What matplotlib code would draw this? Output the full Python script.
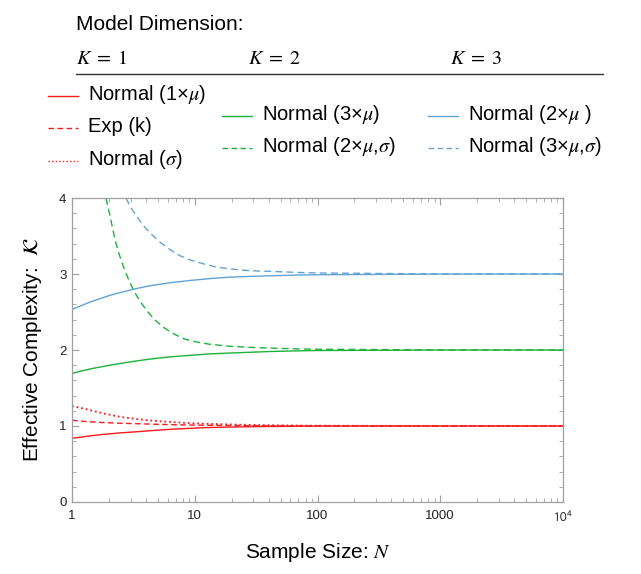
import matplotlib
matplotlib.use("Agg")
import matplotlib.pyplot as plt
from matplotlib.lines import Line2D
from matplotlib.ticker import FixedLocator, LogLocator, NullFormatter

plt.rcParams['font.family'] = ['Liberation Sans', 'DejaVu Sans']
plt.rcParams['mathtext.fontset'] = 'stix'

# values (N, effective complexity)
n_red_solid = [1, 1.4, 1.8, 2.5, 3.4, 4.5, 6.3, 9, 12, 16, 22, 30, 41, 70, 100, 1000, 10000]
k_red_solid = [0.838, 0.87, 0.89, 0.91, 0.925, 0.94, 0.956, 0.969, 0.978, 0.983, 0.988, 0.991, 0.994, 0.997, 0.998, 1.0, 1.0]

n_red_dash = [1, 1.4, 1.8, 2.5, 3.4, 4.5, 6.3, 9, 12, 20, 40, 100, 1000, 10000]
k_red_dash = [1.075, 1.055, 1.045, 1.036, 1.03, 1.024, 1.018, 1.013, 1.01, 1.006, 1.003, 1.001, 1.0, 1.0]

n_red_dot = [1, 1.32, 1.8, 2.46, 3.4, 4.5, 6.3, 9, 12, 22, 41, 70, 100, 1000, 10000]
k_red_dot = [1.263, 1.22, 1.165, 1.12, 1.09, 1.07, 1.053, 1.038, 1.03, 1.018, 1.01, 1.006, 1.004, 1.0, 1.0]

n_green_solid = [1, 1.16, 1.5, 2.04, 3, 4.3, 6.3, 9.2, 13, 19.4, 28, 41, 70, 100, 1000, 10000]
k_green_solid = [1.69, 1.72, 1.76, 1.80, 1.845, 1.88, 1.91, 1.93, 1.948, 1.96, 1.97, 1.98, 1.989, 1.993, 2.0, 2.0]

n_green_dash = [1.89, 2.05, 2.24, 2.42, 2.62, 2.85, 3.16, 3.55, 4.06, 4.7, 5.55, 6.6, 8.07, 10, 13.3, 19, 28, 41, 70, 100, 1000, 10000]
k_green_dash = [4.0, 3.75, 3.45, 3.26, 3.10, 2.95, 2.79, 2.65, 2.52, 2.40, 2.30, 2.22, 2.15, 2.11, 2.075, 2.05, 2.035, 2.025, 2.014, 2.01, 2.001, 2.0]

n_blue_solid = [1, 1.4, 2.04, 3.16, 4.3, 6.3, 9.2, 13.3, 19, 28, 41, 70, 100, 1000, 10000]
k_blue_solid = [2.535, 2.63, 2.72, 2.80, 2.845, 2.885, 2.915, 2.94, 2.958, 2.968, 2.976, 2.986, 2.99, 2.999, 3.0]

n_blue_dash = [2.75, 3.0, 3.36, 3.8, 4.32, 5.2, 6.29, 7.6, 9.15, 12, 15.1, 20, 24.9, 32, 41, 70, 100, 1000, 10000]
k_blue_dash = [4.0, 3.88, 3.76, 3.64, 3.54, 3.42, 3.32, 3.24, 3.185, 3.13, 3.09, 3.065, 3.05, 3.04, 3.035, 3.02, 3.013, 3.001, 3.0]

x_ticks = [1, 10, 100, 1000, 10000]
x_ticklabels = ['1', '10', '100', '1000', r'$\mathsf{10}^{\mathsf{4}}$']
y_ticks = [0, 1, 2, 3, 4]

red = '#ff1a1a'
green = '#1ab33a'
blue = '#62a3d6'

fig = plt.figure(figsize=(6.41, 5.74), dpi=100)
W, H = 641, 574
ax = fig.add_axes([72 / W, 1 - 502 / H, 491 / W, 304 / H])

ax.plot(n_red_solid, k_red_solid, color=red, lw=1.0)
ax.plot(n_red_dash, k_red_dash, color=red, lw=1.0, dashes=(4, 2.5))
ax.plot(n_red_dot, k_red_dot, color=red, lw=1.3, dashes=(1, 1.6))
ax.plot(n_green_solid, k_green_solid, color=green, lw=1.0)
ax.plot(n_green_dash, k_green_dash, color=green, lw=1.0, dashes=(5, 3))
ax.plot(n_blue_solid, k_blue_solid, color=blue, lw=1.0)
ax.plot(n_blue_dash, k_blue_dash, color=blue, lw=1.0, dashes=(5, 3))

ax.set_xscale('log')
ax.set_xlim(1, 1e4)
ax.set_ylim(0, 4)
ax.set_xticks(x_ticks)
ax.set_xticklabels(x_ticklabels)
ax.xaxis.set_minor_locator(LogLocator(base=10, subs=range(2, 10)))
ax.xaxis.set_minor_formatter(NullFormatter())
ax.set_yticks(y_ticks)
ax.yaxis.set_minor_locator(FixedLocator([i * 0.2 for i in range(21)]))

for s in ax.spines.values():
    s.set_color('#a0a0a0')
    s.set_linewidth(0.9)
ax.tick_params(which='both', direction='in', top=True, right=True, color='#a0a0a0', labelsize=9.5, labelcolor='#222222')
ax.tick_params(which='major', length=5, width=0.8)
ax.tick_params(which='minor', length=3, width=0.6)
ax.tick_params(axis='x', pad=6)
ax.tick_params(axis='y', pad=4)

ax.set_xlabel('Sample Size: $N$', fontsize=15, labelpad=11)
ax.set_ylabel(r'Effective Complexity:  $\mathcal{K}$', fontsize=15, labelpad=11)


def px(x, y):
    return x / W, 1 - y / H


# legend block drawn on the figure
fig.text(*px(76, 25), 'Model Dimension:', fontsize=15, va='center', ha='left')
for x, lab in [(76, r'$K\;=\;1$'), (248, r'$K\;=\;2$'), (450, r'$K\;=\;3$')]:
    fig.text(*px(x, 59), lab, fontsize=14.5, va='center', ha='left')
fig.add_artist(Line2D([76 / W, 603 / W], [1 - 74 / H, 1 - 74 / H], color='#333333', lw=1.0, transform=fig.transFigure))

entries = [
    (48, 96, red, '-', 'Normal (1×$\\mu$)'),
    (48, 128, red, (0, (4, 2.5)), 'Exp (k)'),
    (48, 161, red, (0, (1, 1.6)), 'Normal ($\\sigma$)'),
    (222, 116, green, '-', 'Normal (3×$\\mu$)'),
    (222, 148, green, (0, (4, 2.5)), 'Normal (2×$\\mu$,$\\sigma$)'),
    (428, 116, blue, '-', 'Normal (2×$\\mu$ )'),
    (428, 148, blue, (0, (4, 2.5)), 'Normal (3×$\\mu$,$\\sigma$)'),
]
for x0, y0, c, ls, lab in entries:
    fig.add_artist(Line2D([x0 / W, (x0 + 30) / W], [1 - y0 / H, 1 - y0 / H], color=c, lw=1.0, linestyle=ls, transform=fig.transFigure))
    fig.text(*px(x0 + 40, y0 - 1), lab, fontsize=14.5, va='center', ha='left')

fig.savefig('out.png', dpi=100)
